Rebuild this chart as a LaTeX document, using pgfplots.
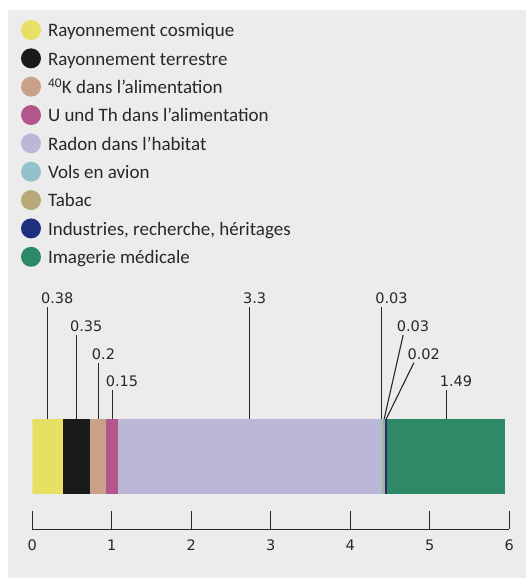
\documentclass[border=0pt]{standalone}
\usepackage{fontspec}
\setmainfont{Carlito}
\newfontfamily\dv{DejaVu Sans}
\usepackage{pgfplots}
\pgfplotsset{compat=1.18}
\definecolor{bgc}{RGB}{236,236,236}
\definecolor{txt}{RGB}{40,40,40}
\definecolor{cYel}{RGB}{232,224,100}
\definecolor{cBlk}{RGB}{26,26,26}
\definecolor{cTan}{RGB}{201,160,136}
\definecolor{cPink}{RGB}{178,86,140}
\definecolor{cLav}{RGB}{186,184,214}
\definecolor{cSky}{RGB}{147,193,204}
\definecolor{cTab}{RGB}{185,168,120}
\definecolor{cNavy}{RGB}{31,47,128}
\definecolor{cGrn}{RGB}{46,138,102}
\tikzset{lead/.style={txt, line width=1.1pt},
  val/.style={anchor=base west, inner sep=0pt, xshift=-6.5pt, yshift=3.5pt, text=txt, font=\dv\fontsize{14.5}{17}\selectfont}}
\begin{document}
\begin{tikzpicture}
\fill[white] (-32.3pt,-48.7pt) rectangle (493.7pt,529.3pt);
\fill[bgc] (-24.3pt,-48.7pt) rectangle (493.7pt,519.3pt);
\begin{axis}[
  scale only axis,
  width=477pt, height=529.3pt,
  xmin=0, xmax=6, ymin=0, ymax=529.3,
  xbar stacked, bar width=74.7,
  axis y line=none, axis x line*=bottom,
  ytick=\empty,
  xtick={0,1,2,3,4,5,6},
  tick align=inside,
  major tick length=18.6pt,
  axis line style={txt, line width=0.9pt},
  tick style={txt, line width=0.9pt},
  /pgf/number format/assume math mode=true,
  xticklabel style={font=\dv\fontsize{14.5}{17}\selectfont, text=txt, yshift=-7pt},
  legend cell align=left,
  legend image code/.code={\fill[#1] (10pt,2.4pt) circle (10pt);},
  legend style={at={(axis cs:-0.142,509.3)}, anchor=north west, draw=none, fill=none,
    inner sep=0pt, outer sep=0pt, row sep=7.45pt, column sep=7pt,
    font=\fontsize{19}{22}\selectfont, text=txt,
    nodes={inner sep=0pt, text height=13pt, text depth=4pt}},
]
\addplot[fill=cYel, draw=none] coordinates {(0.38,72.65)};
\addplot[fill=cBlk, draw=none] coordinates {(0.35,72.65)};
\addplot[fill=cTan, draw=none] coordinates {(0.2,72.65)};
\addplot[fill=cPink, draw=none] coordinates {(0.15,72.65)};
\addplot[fill=cLav, draw=none] coordinates {(3.3,72.65)};
\addplot[fill=cSky, draw=none] coordinates {(0.03,72.65)};
\addplot[fill=cTab, draw=none] coordinates {(0.03,72.65)};
\addplot[fill=cNavy, draw=none] coordinates {(0.02,72.65)};
\addplot[fill=cGrn, draw=none] coordinates {(1.49,72.65)};
\legend{Rayonnement cosmique, Rayonnement terrestre, \textsuperscript{40}K dans l’alimentation, U und Th dans l’alimentation, Radon dans l’habitat, Vols en avion, Tabac, {Industries, recherche, héritages}, Imagerie médicale}
\draw[lead] (axis cs:0.19,110) -- (axis cs:0.19,222.6);
\draw[lead] (axis cs:0.555,110) -- (axis cs:0.555,194.3);
\draw[lead] (axis cs:0.83,110) -- (axis cs:0.83,166.6);
\draw[lead] (axis cs:1.005,110) -- (axis cs:1.005,139.3);
\draw[lead] (axis cs:2.73,110) -- (axis cs:2.73,222.6);
\draw[lead] (axis cs:4.395,110) -- (axis cs:4.395,222.6);
\draw[lead] (axis cs:4.425,110) -- (axis cs:4.665,194.3);
\draw[lead] (axis cs:4.45,110) -- (axis cs:4.80,166.6);
\draw[lead] (axis cs:5.205,110) -- (axis cs:5.205,139.3);
\node[val] at (axis cs:0.19,222.6) {0.38};
\node[val] at (axis cs:0.555,194.3) {0.35};
\node[val] at (axis cs:0.83,166.6) {0.2};
\node[val] at (axis cs:1.005,139.3) {0.15};
\node[val] at (axis cs:2.73,222.6) {3.3};
\node[val] at (axis cs:4.395,222.6) {0.03};
\node[val] at (axis cs:4.665,194.3) {0.03};
\node[val] at (axis cs:4.80,166.6) {0.02};
\node[val] at (axis cs:5.205,139.3) {1.49};
\node[anchor=base, inner sep=0pt, text=txt, font=\dv\fontsize{14.5}{17}\selectfont] at (axis cs:3,-45.2) {mSv/an};
\end{axis}
\end{tikzpicture}
\end{document}
